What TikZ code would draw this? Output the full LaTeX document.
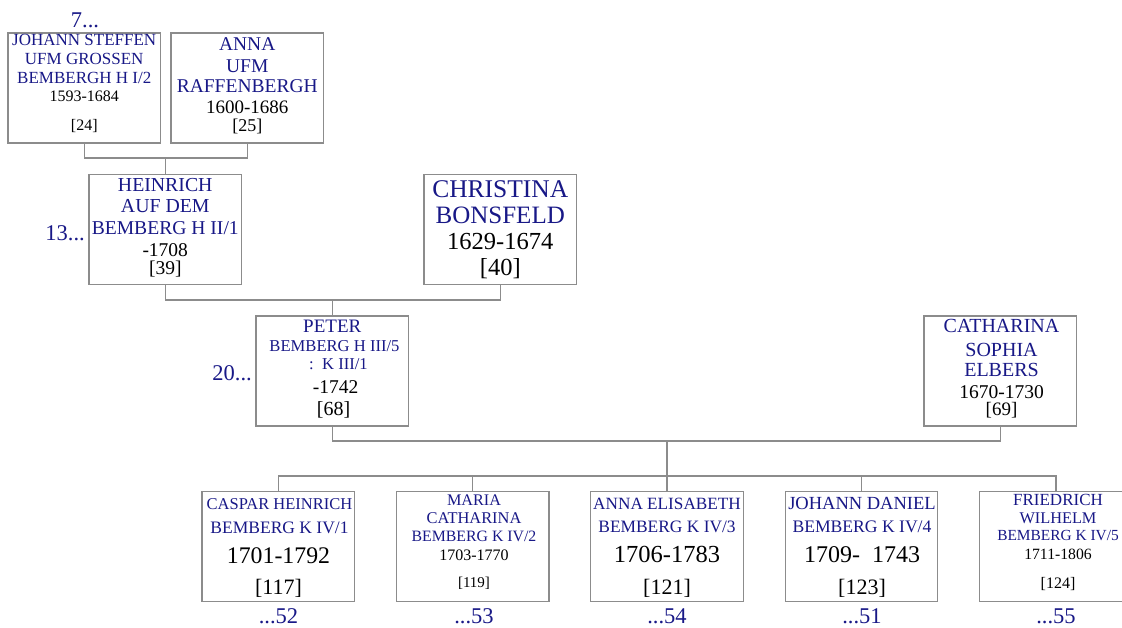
\documentclass[tikz,border=0pt]{standalone}
\usepackage{fontspec}
\setmainfont{Liberation Serif}
\definecolor{nm}{RGB}{24,24,135}
\definecolor{ln}{RGB}{140,140,140}
\newcommand{\fsz}[1]{\fontsize{#1}{#1}\selectfont}
\begin{document}
\begin{tikzpicture}[x=1pt,y=-1pt,
 pbox/.style={draw=ln,line width=1.3pt,minimum width=152.5pt,minimum height=110pt,inner sep=0pt},
 conn/.style={draw=ln,line width=1.3pt},
 nmt/.style={anchor=base,inner sep=0pt,text=nm},
 dtt/.style={anchor=base,inner sep=0pt,text=black},
 lbl/.style={anchor=base,inner sep=0pt,text=nm,font=\fsz{22.5}}]
\useasboundingbox (0,0) rectangle (1122,628);
\fill[white] (0,0) rectangle (1122,628);
\clip (0,0) rectangle (1122,628);

% boxes
\node[pbox] (js) at (84.25,88) {};
\node[pbox] (an) at (247.25,88) {};
\node[pbox] (he) at (165.25,229.5) {};
\node[pbox] (ch) at (500.25,229.5) {};
\node[pbox] (pe) at (332.25,371) {};
\node[pbox] (ca) at (1000.25,371) {};
\node[pbox] (c1) at (278.25,546.5) {};
\node[pbox] (c2) at (472.65,546.5) {};
\node[pbox] (c3) at (667.05,546.5) {};
\node[pbox] (c4) at (861.45,546.5) {};
\node[pbox] (c5) at (1055.85,546.5) {};

% connectors
\coordinate (m1) at (165.75,158);
\coordinate (m2) at (332.75,300);
\coordinate (m3) at (667.05,441);
\coordinate (bar) at (667.05,476);
\draw[conn] (js.south) |- (m1) -| (an.south);
\draw[conn] (m1) -- (m1 |- he.north);
\draw[conn] (he.south) |- (m2) -| (ch.south);
\draw[conn] (m2) -- (m2 |- pe.north);
\draw[conn] (pe.south) |- (m3) -| (ca.south);
\draw[conn] (m3) -- (bar);
\draw[conn] (c1.north) -- (c1.north |- bar) -- (c5.north |- bar) -- (c5.north);
\draw[conn] (c2.north) -- (c2.north |- bar);
\draw[conn] (c3.north) -- (c3.north |- bar);
\draw[conn] (c4.north) -- (c4.north |- bar);

% Johann Steffen
\node[nmt,font=\fsz{17}] (js1) at (84.25,46) {JOHANN STEFFEN};
\node[nmt,font=\fsz{17}] (js2) at (84.25,65) {UFM GROSSEN};
\node[nmt,font=\fsz{17}] (js3) at (84.25,84) {BEMBERGH H I/2};
\node[dtt,font=\fsz{16}] (js4) at (84.25,102) {1593-1684};
\node[dtt,font=\fsz{16}] (js5) at (84.25,131) {[24]};
% Anna
\node[nmt,font=\fsz{19.5}] (an1) at (247.25,51) {ANNA};
\node[nmt,font=\fsz{19.5}] (an2) at (247.25,73) {UFM};
\node[nmt,font=\fsz{19.5}] (an3) at (247.25,93) {RAFFENBERGH};
\node[dtt,font=\fsz{19}] (an4) at (247.25,114) {1600-1686};
\node[dtt,font=\fsz{18}] (an5) at (247.25,132) {[25]};
% Heinrich
\node[nmt,font=\fsz{19.8}] (he1) at (165.25,192) {HEINRICH};
\node[nmt,font=\fsz{19.8}] (he2) at (165.25,213) {AUF DEM};
\node[nmt,font=\fsz{19.6}] (he3) at (165.25,235) {BEMBERG H II/1};
\node[dtt,font=\fsz{19.5}] (he4) at (165.25,257) {-1708};
\node[dtt,font=\fsz{19.5}] (he5) at (165.25,275) {[39]};
% Christina
\node[nmt,font=\fsz{25.5}] (ch1) at (500.25,198) {CHRISTINA};
\node[nmt,font=\fsz{25}] (ch2) at (500.25,224) {BONSFELD};
\node[dtt,font=\fsz{24.5}] (ch3) at (500.25,250) {1629-1674};
\node[dtt,font=\fsz{24.5}] (ch4) at (500.25,276) {[40]};
% Peter
\node[nmt,font=\fsz{19}] (pe1) at (332.25,333) {PETER};
\node[nmt,font=\fsz{16.6}] (pe2) at (334.5,352) {BEMBERG H III/5};
\node[nmt,font=\fsz{16.6}] (pe3) at (338.5,370) {:\ \ K III/1};
\node[dtt,font=\fsz{19.5}] (pe4) at (335.5,393) {-1742};
\node[dtt,font=\fsz{20}] (pe5) at (333.5,415) {[68]};
% Catharina
\node[nmt,font=\fsz{20}] (ca1) at (1001.5,333) {CATHARINA};
\node[nmt,font=\fsz{20}] (ca2) at (1001.5,356) {SOPHIA};
\node[nmt,font=\fsz{20}] (ca3) at (1001.5,376) {ELBERS};
\node[dtt,font=\fsz{19.5}] (ca4) at (1001.5,398) {1670-1730};
\node[dtt,font=\fsz{19}] (ca5) at (1001.5,415) {[69]};
% Caspar
\node[nmt,font=\fsz{16.5}] (c1a) at (279.5,509) {CASPAR HEINRICH};
\node[nmt,font=\fsz{17.5}] (c1b) at (279.5,533) {BEMBERG K IV/1};
\node[dtt,font=\fsz{23.8}] (c1c) at (278.5,563) {1701-1792};
\node[dtt,font=\fsz{22}] (c1d) at (278.5,594) {[117]};
% Maria
\node[nmt,font=\fsz{16.2}] (c2a) at (474,505) {MARIA};
\node[nmt,font=\fsz{16.4}] (c2b) at (474,523) {CATHARINA};
\node[nmt,font=\fsz{15.8}] (c2c) at (474,541) {BEMBERG K IV/2};
\node[dtt,font=\fsz{16}] (c2d) at (474,560) {1703-1770};
\node[dtt,font=\fsz{15}] (c2e) at (474,587) {[119]};
% Anna Elisabeth
\node[nmt,font=\fsz{17.2}] (c3a) at (667.05,509) {ANNA ELISABETH};
\node[nmt,font=\fsz{17.4}] (c3b) at (667.05,532) {BEMBERG K IV/3};
\node[dtt,font=\fsz{24.5}] (c3c) at (667.05,562) {1706-1783};
\node[dtt,font=\fsz{22}] (c3d) at (667.05,594) {[121]};
% Johann Daniel
\node[nmt,font=\fsz{18.5}] (c4a) at (862,509) {JOHANN DANIEL};
\node[nmt,font=\fsz{17.6}] (c4b) at (862,532) {BEMBERG K IV/4};
\node[dtt,font=\fsz{24}] (c4c) at (862,562) {1709-\ \ 1743};
\node[dtt,font=\fsz{22}] (c4d) at (862,594) {[123]};
% Friedrich Wilhelm
\node[nmt,font=\fsz{17}] (c5a) at (1058,505) {FRIEDRICH};
\node[nmt,font=\fsz{16.3}] (c5b) at (1058,523) {WILHELM};
\node[nmt,font=\fsz{15.4}] (c5c) at (1058,540) {BEMBERG K IV/5};
\node[dtt,font=\fsz{15.7}] (c5d) at (1058,559) {1711-1806};
\node[dtt,font=\fsz{16}] (c5e) at (1058,588) {[124]};

% generation links
\node[lbl] (l7) at (85,28) {7...};
\node[lbl,anchor=base east] (l13) at (85,241) {13...};
\node[lbl,anchor=base east] (l20) at (252,381) {20...};
\node[lbl] (l52) at (278.5,623) {...52};
\node[lbl] (l53) at (474,623) {...53};
\node[lbl] (l54) at (667,623) {...54};
\node[lbl] (l51) at (862,623) {...51};
\node[lbl] (l55) at (1056,623) {...55};
\end{tikzpicture}
\end{document}
